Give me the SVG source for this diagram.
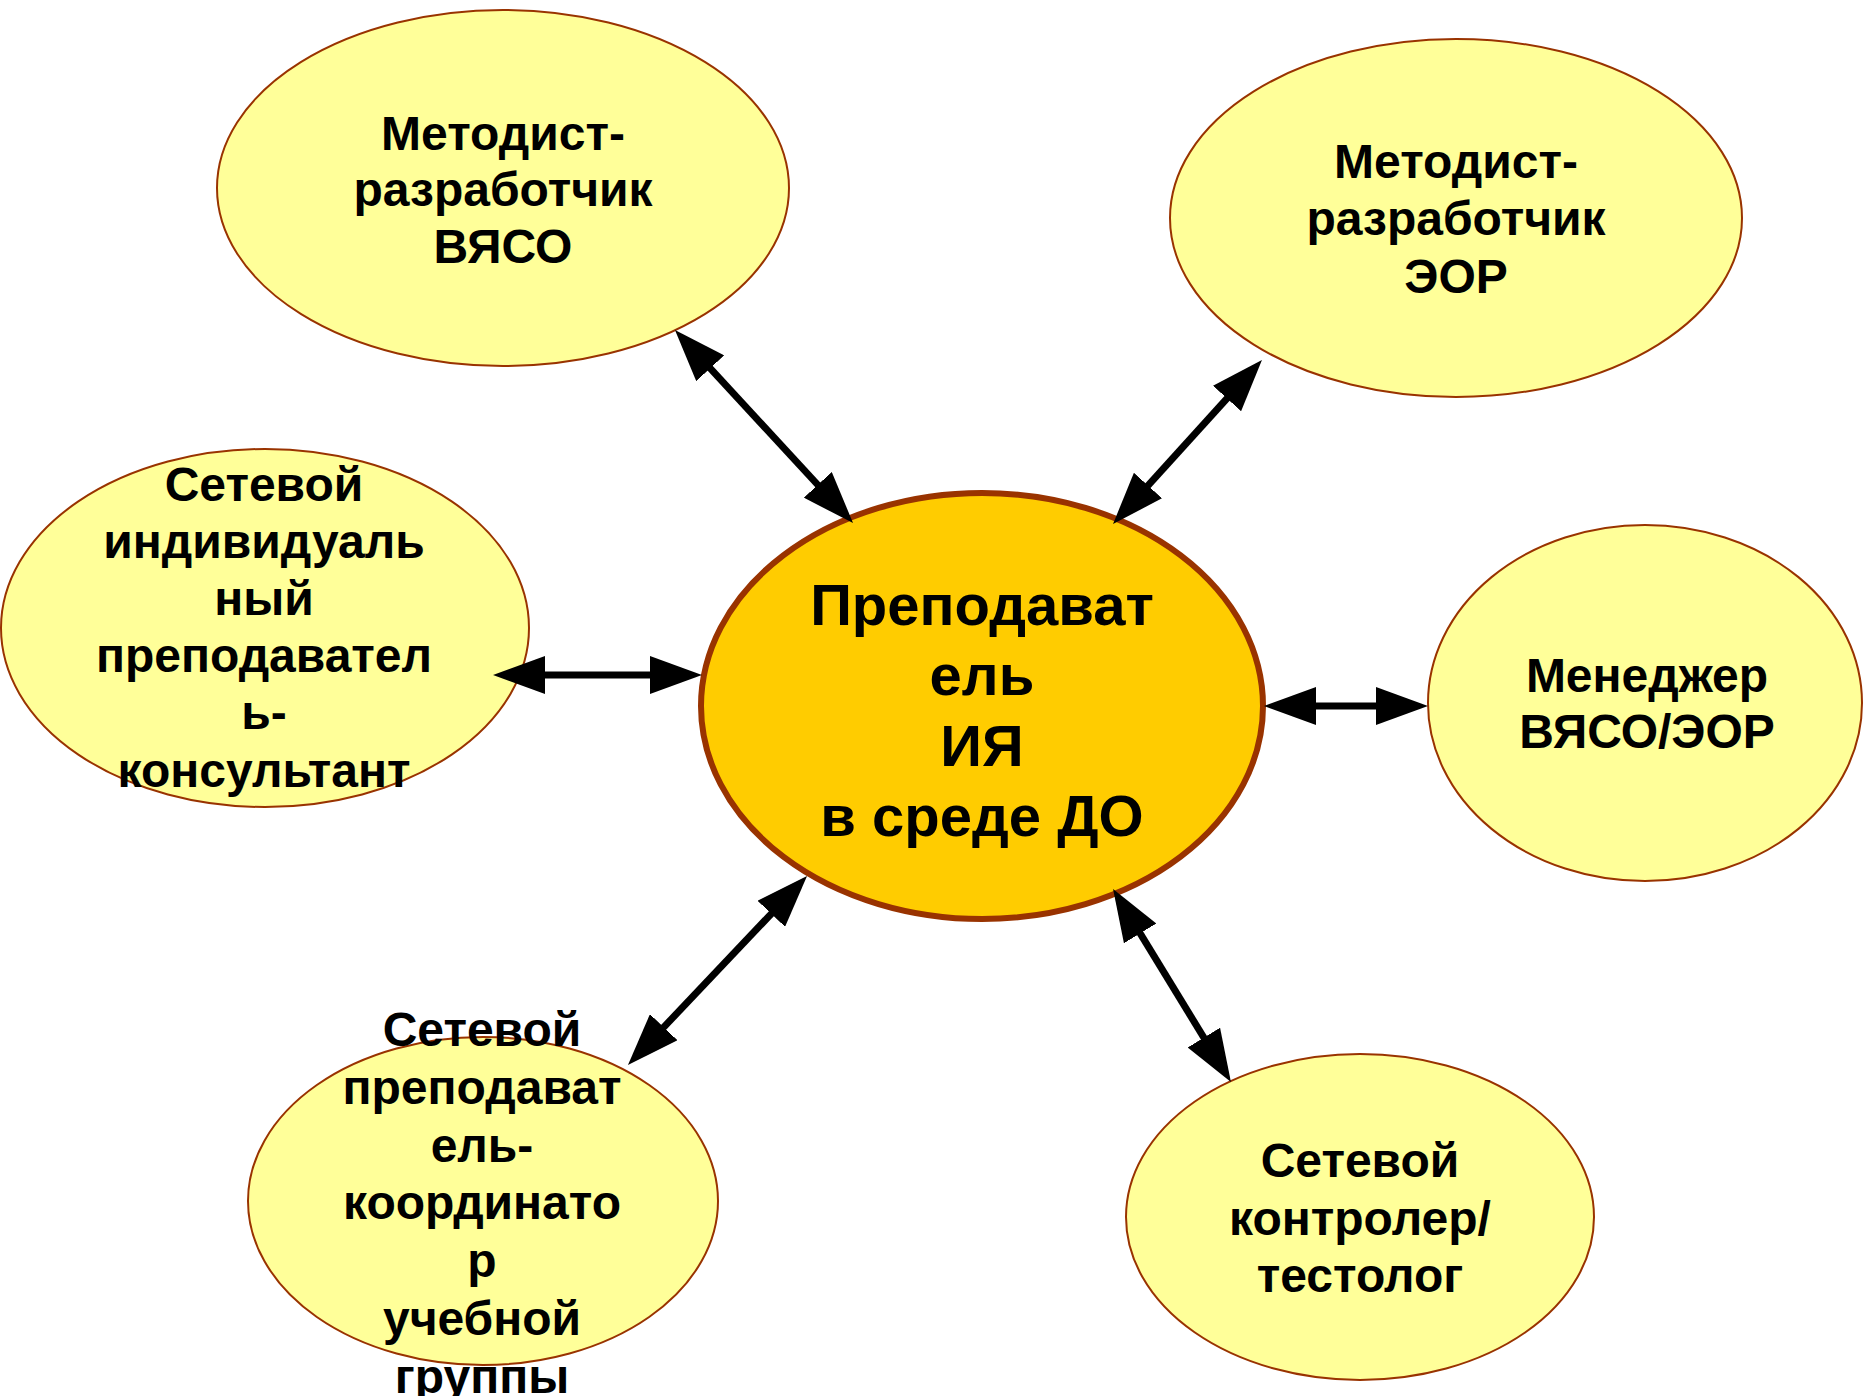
<svg xmlns="http://www.w3.org/2000/svg" width="1863" height="1396" viewBox="0 0 1863 1396">
<style>
.n{fill:#FFFF99;stroke:#993300;stroke-width:2}
.c{fill:#FFCC00;stroke:#993300;stroke-width:6}
.t{font-family:"Liberation Sans",Arial,sans-serif;font-weight:bold;font-size:48px;fill:#000;text-anchor:middle}
.tc{font-size:58px}
.e{stroke:#000;stroke-width:7;fill:none;marker-start:url(#ah);marker-end:url(#ah)}
</style>
<defs>
<marker id="ah" markerUnits="userSpaceOnUse" markerWidth="52" markerHeight="38" refX="22" refY="19" orient="auto-start-reverse" viewBox="0 0 52 38">
<path d="M0,0 L52,19 L0,38 z" fill="#000"/>
</marker>
</defs>
<rect width="1863" height="1396" fill="#fff"/>
<g id="node-metodist-vyaso">
<ellipse class="n" cx="503" cy="188" rx="286" ry="178"/>
<text class="t" x="503" y="150">Методист-</text>
<text class="t" x="503" y="206">разработчик</text>
<text class="t" x="503" y="263">ВЯСО</text>
</g>
<g id="node-metodist-eor">
<ellipse class="n" cx="1456" cy="218" rx="286" ry="179"/>
<text class="t" x="1456" y="178">Методист-</text>
<text class="t" x="1456" y="235">разработчик</text>
<text class="t" x="1456" y="293">ЭОР</text>
</g>
<g id="node-konsultant">
<ellipse class="n" cx="265" cy="628" rx="264" ry="179"/>
<text class="t" x="264" y="501">Сетевой</text>
<text class="t" x="264" y="558">индивидуаль</text>
<text class="t" x="264" y="615">ный</text>
<text class="t" x="264" y="672">преподавател</text>
<text class="t" x="264" y="729">ь-</text>
<text class="t" x="264" y="787">консультант</text>
</g>
<g id="node-center">
<ellipse class="c" cx="982" cy="706" rx="281" ry="213"/>
<text class="t tc" x="982" y="625">Преподават</text>
<text class="t tc" x="982" y="695">ель</text>
<text class="t tc" x="982" y="766">ИЯ</text>
<text class="t tc" x="982" y="836">в среде ДО</text>
</g>
<g id="node-manager">
<ellipse class="n" cx="1645" cy="703" rx="217" ry="178"/>
<text class="t" x="1647" y="692">Менеджер</text>
<text class="t" x="1647" y="748">ВЯСО/ЭОР</text>
</g>
<g id="node-koordinator">
<ellipse class="n" cx="483" cy="1201" rx="235" ry="164"/>
<text class="t" x="482" y="1046">Сетевой</text>
<text class="t" x="482" y="1104">преподават</text>
<text class="t" x="482" y="1162">ель-</text>
<text class="t" x="482" y="1219">координато</text>
<text class="t" x="482" y="1277">р</text>
<text class="t" x="482" y="1335">учебной</text>
<text class="t" x="482" y="1393">группы</text>
</g>
<g id="node-testolog">
<ellipse class="n" cx="1360" cy="1217" rx="234" ry="163"/>
<text class="t" x="1360" y="1177">Сетевой</text>
<text class="t" x="1360" y="1235">контролер/</text>
<text class="t" x="1360" y="1292">тестолог</text>
</g>
<g id="connectors">
<line class="e" x1="695.3" y1="352.1" x2="832.7" y2="501.0"/>
<line class="e" x1="1241.8" y1="382.2" x2="1133.2" y2="501.8"/>
<line class="e" x1="523" y1="675" x2="672" y2="675"/>
<line class="e" x1="1294" y1="706" x2="1398" y2="706"/>
<line class="e" x1="786.4" y1="897.8" x2="648.6" y2="1043.2"/>
<line class="e" x1="1128.7" y1="914.6" x2="1215.3" y2="1056.4"/>
</g>
</svg>
